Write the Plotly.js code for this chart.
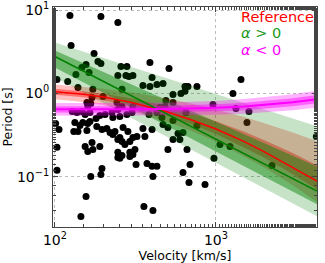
<!DOCTYPE html>
<html><head><meta charset="utf-8">
<script src="https://cdn.plot.ly/plotly-3.0.1.min.js"></script>
<style>html,body{margin:0;padding:0;background:#fff}</style>
</head><body><div id="chart" style="width:325px;height:263px"></div>
<script>
// Observed sources: velocity [km/s] and period [s]
const velocity = [124,193,246,126,175,185,193,147,156,135,163,257,280,246,276,288,305,389,511,1430,1275,
  103,120,139,172,170,199,158,167,160,243,261,246,305,128,137,147,154,165,165,180,190,205,226,229,253,280,301,
  101,106,133,143,149,160,158,182,196,210,220,236,265,253,261,292,305,170,172,160,190,103,314,131,139,154,
  229,246,246,246,103,145,156,167,193,196,253,261,292,305,319,373,401,430,406,357,406,624,690,680,855,972,
  272,292,284,323,362,401,352,389,430,469,642,670,762,541,606,642,489,541,449,482,958,384,430,462,541,762,
  352,469,503,541,597,581,624,503,661,1059,1222,2228,1331,1603,1558,4200,261,401,651];
const period = [8.60,8.36,7.08,3.76,3.01,2.42,2.29,2.05,2.22,1.69,1.78,2.11,2.11,1.64,1.64,1.60,1.64,2.35,1.99,1.47,1.00,
  1.47,1.39,1.18,1.12,0.896,0.921,0.780,0.759,0.699,0.780,0.699,0.643,0.699,0.609,0.592,0.609,0.561,0.592,0.462,0.502,0.546,0.561,0.592,0.516,0.531,0.561,0.592,
  0.437,0.371,0.450,0.414,0.450,0.437,0.361,0.403,0.371,0.381,0.341,0.351,0.392,0.297,0.266,0.266,0.297,0.259,0.213,0.202,0.232,0.226,0.213,0.351,0.351,0.232,
  0.323,0.281,0.197,0.171,0.120,0.0336,0.0584,0.101,0.107,0.126,0.167,0.181,0.176,0.186,0.141,0.145,0.134,0.134,0.101,0.0443,0.0397,0.113,0.141,0.0859,0.0813,0.167,
  0.245,0.197,0.351,0.305,0.305,0.371,1.25,1.21,1.28,1.32,1.21,1.21,1.21,0.973,1.00,1.06,0.825,0.780,0.680,0.699,0.738,0.561,0.592,0.516,0.475,0.414,
  0.381,0.425,0.392,0.281,0.281,0.332,0.341,0.213,0.213,0.245,0.232,0.137,0.661,0.609,0.450,0.305,1.12,1.55,0.592];

// Model curves sampled at these velocities
const curveVelocity = [100,150,200,300,500,700,1000,1500,2000,3000,4240];
// Reference
const refPeriod  = [1.05,0.98,0.905,0.78,0.60,0.485,0.375,0.265,0.20,0.13,0.089];
const refOuterHi = [1.28,1.21,1.14,1.03,0.869,0.759,0.644,0.521,0.441,0.340,0.268];
const refOuterLo = [0.851,0.791,0.726,0.613,0.456,0.358,0.265,0.174,0.130,0.0794,0.050];
const refInnerHi = [1.135,1.065,0.993,0.870,0.696,0.580,0.465,0.348,0.276,0.193,0.138];
const refInnerLo = [0.964,0.898,0.829,0.707,0.538,0.430,0.326,0.224,0.170,0.108,0.0705];
// alpha > 0
const posPeriod  = [2.77,1.856,1.395,0.934,0.563,0.403,0.283,0.1895,0.1424,0.0954,0.0677];
const posOuterHi = [4.08,3.18,2.66,2.07,1.51,1.229,0.986,0.768,0.643,0.501,0.405];
const posOuterLo = [1.556,1.028,0.766,0.506,0.300,0.2127,0.1476,0.0975,0.0726,0.048,0.0337];
const posInnerHi = [3.27,2.316,1.811,1.281,0.828,0.621,0.458,0.324,0.2535,0.1794,0.1337];
const posInnerLo = [2.046,1.36,1.018,0.676,0.404,0.288,0.201,0.1335,0.0999,0.0664,0.0469];
// alpha < 0
const negPeriod  = [0.6457,0.6427,0.6412,0.6457,0.6531,0.6607,0.673,0.6998,0.7278,0.7852,0.855];
const negOuterHi = [0.768,0.764,0.762,0.769,0.782,0.794,0.815,0.857,0.900,0.981,1.076];
const negOuterLo = [0.543,0.541,0.539,0.542,0.546,0.550,0.556,0.571,0.589,0.628,0.679];
const negInnerHi = [0.704,0.701,0.699,0.705,0.714,0.724,0.741,0.774,0.809,0.878,0.959];
const negInnerLo = [0.592,0.590,0.588,0.592,0.597,0.603,0.612,0.629,0.655,0.702,0.762];

const xTickVals = [100,1000];
const xTickText = ['10<sup>2</sup>','10<sup>3</sup>'];
const yTickVals = [0.1,1,10];
const yTickText = ['10<sup>\u22121</sup>','10<sup>0</sup>','10<sup>1</sup>'];

const labels = ['Reference','<i>\u03b1</i> > 0','<i>\u03b1</i> < 0'];

function band(hi, lo, color) {
  return {x: curveVelocity.concat(curveVelocity.slice().reverse()),
          y: hi.concat(lo.slice().reverse()),
          type:'scatter', mode:'lines', fill:'toself', fillcolor: color,
          line:{width:0, color:'rgba(0,0,0,0)'}, hoverinfo:'skip', showlegend:false};
}
function line(y, color, w) {
  return {x: curveVelocity, y: y, type:'scatter', mode:'lines',
          line:{color: color, width:w}, showlegend:false};
}

const traces = [
  {x: velocity, y: period, type:'scatter', mode:'markers',
   marker:{color:'black', size:7}, showlegend:false},
  band(refOuterHi, refOuterLo, 'rgba(255,0,0,0.25)'),
  band(refInnerHi, refInnerLo, 'rgba(255,0,0,0.4)'),
  band(posOuterHi, posOuterLo, 'rgba(0,128,0,0.22)'),
  band(posInnerHi, posInnerLo, 'rgba(0,128,0,0.45)'),
  band(negOuterHi, negOuterLo, 'rgba(255,0,255,0.3)'),
  band(negInnerHi, negInnerLo, 'rgba(255,0,255,0.45)'),
  line(refPeriod, '#ff0000', 1.5),
  line(posPeriod, '#008000', 1.5),
  line(negPeriod, '#ff00ff', 2)
];

const axisCommon = {
  type:'log', showline:true, linecolor:'#444', linewidth:1, mirror:'ticks',
  ticks:'inside', ticklen:5, tickcolor:'#444', tickmode:'array',
  showgrid:true, gridcolor:'#bbbbbb', griddash:'dot', gridwidth:1, zeroline:false,
  tickfont:{family:'DejaVu Sans', size:14, color:'#000'},
  minor:{ticks:'inside', ticklen:3, tickcolor:'#444', showgrid:false}
};

const layout = {
  width:325, height:263,
  margin:{l:53, r:8, t:7, b:36},
  paper_bgcolor:'#fff', plot_bgcolor:'#fff',
  font:{family:'DejaVu Sans', color:'#000'},
  xaxis: Object.assign({}, axisCommon, {
    range:[Math.log10(97.3), Math.log10(4240)],
    tickvals:xTickVals, ticktext:xTickText,
    title:{text:'Velocity [km/s]', font:{size:12.5}, standoff:4}
  }),
  yaxis: Object.assign({}, axisCommon, {
    range:[-1.6, 1.036],
    tickvals:yTickVals, ticktext:yTickText,
    title:{text:'Period [s]', font:{size:12.5}, standoff:4}
  }),
  annotations: labels.map((t,i)=>({
    text:t, xref:'paper', yref:'paper', x:0.705, y:[0.955,0.882,0.805][i],
    xanchor:'left', yanchor:'middle', showarrow:false,
    font:{family:'DejaVu Sans', size:14.5, color:['#ff0000','#1a9a1a','#ff00ff'][i]}
  }))
};

Plotly.newPlot('chart', traces, layout, {displayModeBar:false, staticPlot:true});
</script></body></html>
